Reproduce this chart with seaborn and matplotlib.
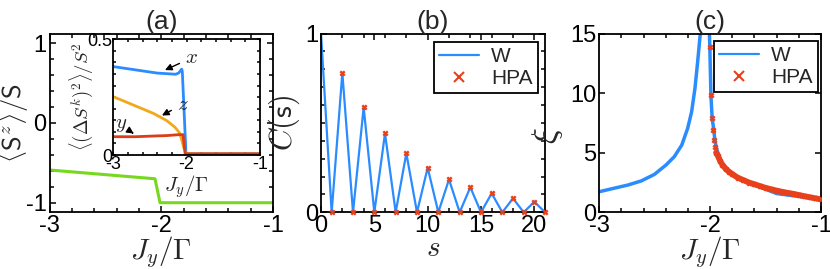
import matplotlib
matplotlib.use("Agg")
import matplotlib.pyplot as plt
import pandas as pd
import seaborn as sns
from matplotlib.lines import Line2D
from matplotlib.ticker import MultipleLocator

# ---- data ----
# (a) main: <S^z>/S vs Jy/Gamma
a_jy = [-3.0, -2.056, -2.011, -1.0]
a_sz = [-0.59, -0.70, -1.0, -1.0]

# (a) inset: fluctuations along x, y, z
ins_x_jy = [-3.0, -2.7, -2.4, -2.15, -2.11, -2.067, -2.059, -2.009, -1.0]
ins_x_val = [0.382, 0.368, 0.354, 0.349, 0.354, 0.371, 0.36, 0.005, 0.005]
ins_z_jy = [-3.0, -2.727, -2.455, -2.273, -2.16, -2.1, -2.067, -2.037, -2.005, -1.0]
ins_z_val = [0.252, 0.216, 0.18, 0.149, 0.12, 0.097, 0.065, 0.029, 0.005, 0.005]
ins_y_jy = [-3.0, -2.7, -2.45, -2.27, -2.1, -2.05, -2.02, -1.0]
ins_y_val = [0.079, 0.079, 0.082, 0.084, 0.088, 0.088, 0.005, 0.005]

# (b) correlation C(s)
b_s = list(range(0, 22))
b_c = [1.0, 0.0, 0.78, 0.0, 0.587, 0.0, 0.441, 0.0, 0.33, 0.0, 0.249,
       0.0, 0.184, 0.0, 0.14, 0.0, 0.106, 0.0, 0.078, 0.0, 0.059, 0.0]
b_hpa_s = b_s[1:]
b_hpa_c = b_c[1:]

# (c) correlation length xi
c_left_jy = [-3.0, -2.741, -2.622, -2.503, -2.398, -2.324, -2.256, -2.203,
             -2.167, -2.137, -2.113, -2.09, -2.085]
c_left_xi = [1.73, 2.29, 2.63, 3.18, 3.97, 4.66, 5.64, 7.04,
             8.44, 10.4, 12.6, 14.9, 16.0]
c_right_jy = [-2.01, -2.003, -1.993, -1.982, -1.967, -1.958, -1.946, -1.928,
              -1.893, -1.804, -1.625, -1.4, -1.208, -1.0]
c_right_xi = [16.0, 13.9, 9.8, 7.9, 6.9, 6.1, 5.5, 4.9,
              4.1, 3.2, 2.4, 1.57, 1.34, 1.08]
c_hpa_jy = [-2.003, -1.993, -1.982, -1.973, -1.964, -1.955, -1.946, -1.93,
            -1.91, -1.89, -1.86, -1.83, -1.8, -1.75, -1.7, -1.65, -1.6,
            -1.55, -1.5, -1.45, -1.4, -1.35, -1.3, -1.25, -1.2, -1.15,
            -1.1, -1.05, -1.0]
c_hpa_xi = [13.9, 9.8, 7.9, 6.9, 6.1, 5.5, 5.0, 4.75,
            4.3, 4.0, 3.65, 3.4, 3.2, 2.9, 2.7, 2.5, 2.35,
            2.2, 2.05, 1.93, 1.82, 1.72, 1.63, 1.55, 1.45, 1.35,
            1.26, 1.17, 1.08]

BLUE = "#2a8cff"
RED = "#e8401a"
ORANGE = "#f2a81d"
GREEN = "#78d820"
INS_RED = "#dc3c18"

sns.set_style("ticks")
plt.rcParams["font.family"] = ["Liberation Sans", "DejaVu Sans"]
plt.rcParams["mathtext.fontset"] = "cm"
plt.rcParams["axes.linewidth"] = 1.3

fig = plt.figure(figsize=(8.3, 2.69), dpi=100)
W, H = 830, 269


def add_axes(left, top, right, bottom):
    return fig.add_axes([left / W, 1 - bottom / H, (right - left) / W, (bottom - top) / H])


def style(ax, size=17):
    ax.tick_params(which="both", direction="in", top=True, right=True,
                   labelsize=size, width=1.1, pad=2, colors="black")
    ax.tick_params(which="major", length=4)
    ax.tick_params(which="minor", length=3)
    for sp in ax.spines.values():
        sp.set_color("black")


def line(ax, x, y, color, lw):
    df = pd.DataFrame({"x": x, "y": y})
    sns.lineplot(data=df, x="x", y="y", ax=ax, color=color, linewidth=lw,
                 estimator=None, sort=False, legend=False)


def add_legend(ax, anchor):
    handles = [Line2D([], [], color=BLUE, lw=1.6),
               Line2D([], [], color=RED, lw=0, marker="x", markersize=7, mew=1.5)]
    leg = ax.legend(handles, ["W", "HPA"], loc="upper right", fontsize=15,
                    frameon=True, fancybox=False, edgecolor="black",
                    framealpha=1, handlelength=1.9, borderpad=0.25,
                    labelspacing=0.15, handletextpad=0.6, borderaxespad=0,
                    bbox_to_anchor=anchor)
    leg.get_frame().set_linewidth(1.3)


# ---- (a) ----
ax1 = add_axes(49.5, 33.5, 273, 212.3)
line(ax1, a_jy, a_sz, GREEN, 2.2)
ax1.set_xlim(-3, -1)
ax1.set_ylim(-1.12, 1.12)
ax1.set_xticks([-3, -2, -1])
ax1.set_xticklabels(["-3", "-2", "-1"])
ax1.set_yticks([-1, 0, 1])
ax1.set_yticklabels(["-1", "0", "1"])
ax1.xaxis.set_minor_locator(MultipleLocator(0.2))
ax1.yaxis.set_minor_locator(MultipleLocator(0.2))
style(ax1)
ax1.set_xlabel(r"$J_y/\Gamma$", fontsize=21, labelpad=-2)
ax1.set_ylabel(r"$\langle \mathsf{S}^z \rangle / \mathsf{S}$", fontsize=19, labelpad=-4)
ax1.set_title("(a)", fontsize=19, pad=2)

ins = add_axes(113.3, 39.3, 260, 155)
line(ins, ins_x_jy, ins_x_val, BLUE, 2.0)
line(ins, ins_z_jy, ins_z_val, ORANGE, 2.0)
line(ins, ins_y_jy, ins_y_val, INS_RED, 2.0)
ins.set_xlim(-3, -1)
ins.set_ylim(0, 0.5)
ins.set_xticks([-3, -2, -1])
ins.set_xticklabels(["-3", "-2", "-1"])
ins.set_yticks([0, 0.5])
ins.set_yticklabels(["0", "0.5"])
ins.xaxis.set_minor_locator(MultipleLocator(0.2))
ins.yaxis.set_minor_locator(MultipleLocator(0.05))
style(ins, 13)
ins.tick_params(which="both", length=2.5, pad=1)
ins.set_xlabel(r"$J_y/\Gamma$", fontsize=15, labelpad=0)
ins.set_ylabel(r"$\langle(\Delta S^k)^2\rangle/S^2$", fontsize=13.5, labelpad=-6)
arrow = dict(arrowstyle="-|>", color="black", lw=1.0, mutation_scale=10)
ins.annotate(r"$x$", xy=(-2.33, 0.362), xytext=(-1.93, 0.42), fontsize=15,
             ha="center", va="center", arrowprops=arrow)
ins.annotate(r"$z$", xy=(-2.37, 0.165), xytext=(-2.05, 0.22), fontsize=15,
             ha="center", va="center", arrowprops=arrow)
ins.annotate(r"$y$", xy=(-2.69, 0.086), xytext=(-2.9, 0.13), fontsize=15,
             ha="center", va="center", arrowprops=arrow)

# ---- (b) ----
ax2 = add_axes(321, 33.5, 545, 212.3)
line(ax2, b_s, b_c, BLUE, 1.6)
sns.scatterplot(x=b_hpa_s, y=b_hpa_c, ax=ax2, marker="x", color=RED, s=10,
                linewidth=1.7, zorder=3, legend=False, clip_on=False)
ax2.set_xlim(0, 21)
ax2.set_ylim(0, 1)
ax2.set_xticks([0, 5, 10, 15, 20])
ax2.set_yticks([0, 1])
ax2.xaxis.set_minor_locator(MultipleLocator(2))
ax2.yaxis.set_minor_locator(MultipleLocator(0.1))
style(ax2)
ax2.set_xlabel(r"$s$", fontsize=21, labelpad=-2)
ax2.set_ylabel(r"$C(\mathsf{s})$", fontsize=22, labelpad=2)
ax2.set_title("(b)", fontsize=19, pad=2)
add_legend(ax2, (0.969, 0.954))

# ---- (c) ----
ax3 = add_axes(599.3, 33.5, 821, 212.3)
line(ax3, c_left_jy, c_left_xi, BLUE, 2.5)
line(ax3, c_right_jy, c_right_xi, BLUE, 2.5)
dense = [(x, y) for x, y in zip(c_hpa_jy, c_hpa_xi) if x > -1.95]
line(ax3, [p[0] for p in dense], [p[1] for p in dense], RED, 4.2)
sns.scatterplot(x=c_hpa_jy, y=c_hpa_xi, ax=ax3, marker="x", color=RED, s=10,
                linewidth=1.8, zorder=3, legend=False)
ax3.set_xlim(-3, -1)
ax3.set_ylim(0, 15)
ax3.set_xticks([-3, -2, -1])
ax3.set_xticklabels(["-3", "-2", "-1"])
ax3.set_yticks([0, 5, 10, 15])
ax3.xaxis.set_minor_locator(MultipleLocator(0.2))
style(ax3)
ax3.set_xlabel(r"$J_y/\Gamma$", fontsize=21, labelpad=-2)
ax3.set_ylabel(r"$\xi$", fontsize=24, labelpad=4)
ax3.yaxis.label.set_y(0.43)
ax3.set_title("(c)", fontsize=19, pad=2)
add_legend(ax3, (0.986, 0.96))

fig.savefig("out.png", dpi=100)
